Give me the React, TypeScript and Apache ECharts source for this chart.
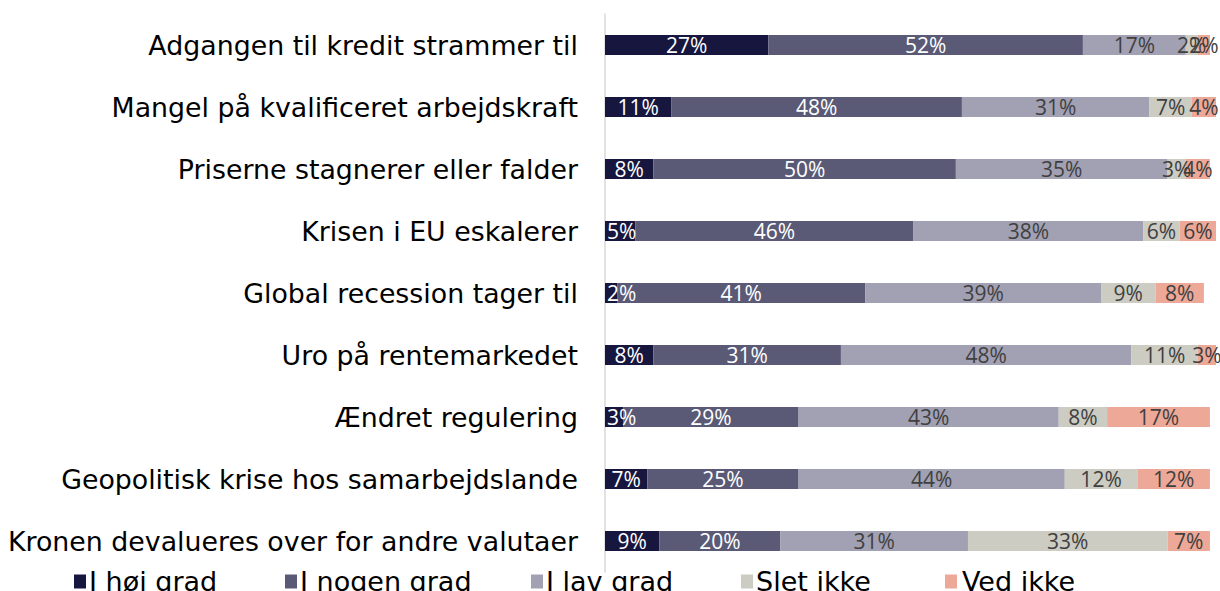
import React, { useEffect, useRef } from "react";
import * as echarts from "echarts";

const categories = [
  "Adgangen til kredit strammer til",
  "Mangel på kvalificeret arbejdskraft",
  "Priserne stagnerer eller falder",
  "Krisen i EU eskalerer",
  "Global recession tager til",
  "Uro på rentemarkedet",
  "Ændret regulering",
  "Geopolitisk krise hos samarbejdslande",
  "Kronen devalueres over for andre valutaer",
];
const seriesNames = ["I høj grad", "I nogen grad", "I lav grad", "Slet ikke", "Ved ikke"];
const hoejGrad = [27, 11, 8, 5, 2, 8, 3, 7, 9];
const nogenGrad = [52, 48, 50, 46, 41, 31, 29, 25, 20];
const lavGrad = [17, 31, 35, 38, 39, 48, 43, 44, 31];
const sletIkke = [2, 7, 3, 6, 9, 11, 8, 12, 33];
const vedIkke = [2, 4, 4, 6, 8, 3, 17, 12, 7];

const colors = ["#16163f", "#5a5a77", "#a2a1b3", "#cdccc3", "#eea897"];
const labelColors = ["#ffffff", "#ffffff", "#404040", "#404040", "#404040"];
const legendLefts = [69, 280, 526, 736, 940];

export default function App() {
  const ref = useRef<HTMLDivElement>(null);
  useEffect(() => {
    const chart = echarts.init(ref.current!, null, { renderer: "svg" });
    const values = [hoejGrad, nogenGrad, lavGrad, sletIkke, vedIkke];
    chart.setOption({
      animation: false,
      textStyle: { fontFamily: "DejaVu Sans" },
      grid: { left: 605, right: 4, top: 14, height: 558, containLabel: false },
      legend: seriesNames.map((n, i) => ({
        data: [n],
        left: legendLefts[i],
        top: 563,
        itemWidth: 12,
        itemHeight: 14,
        itemGap: 5,
        icon: "rect",
        textStyle: {
          fontFamily: "DejaVu Sans",
          fontSize: 27,
          color: "#000000",
          padding: [0, 0, 0, i === 4 ? 0 : -2],
        },
      })),
      xAxis: {
        type: "value",
        min: 0,
        max: 101,
        show: false,
      },
      yAxis: {
        type: "category",
        data: categories,
        inverse: true,
        axisLine: { show: true, lineStyle: { color: "#d9d9d9", width: 1.5 } },
        axisTick: { show: false },
        axisLabel: { fontSize: 26.8, color: "#000000", margin: 27, fontFamily: "DejaVu Sans" },
      },
      series: seriesNames.map((n, i) => ({
        name: n,
        type: "bar",
        stack: "total",
        barWidth: 20,
        clip: false,
        data: values[i].map((v) =>
          i === 0 && v < 6
            ? { value: v, label: { position: "insideLeft", distance: 2 } }
            : v
        ),
        itemStyle: { color: colors[i] },
        label: {
          show: true,
          position: "inside",
          formatter: "{c}%",
          color: labelColors[i],
          fontSize: 21,
          fontFamily: "Liberation Sans Narrow, Open Sans, sans-serif",
        },
      })),
    });
    return () => chart.dispose();
  }, []);
  return <div ref={ref} style={{ width: 1220, height: 591, position: "absolute", left: 0, top: 0 }} />;
}
